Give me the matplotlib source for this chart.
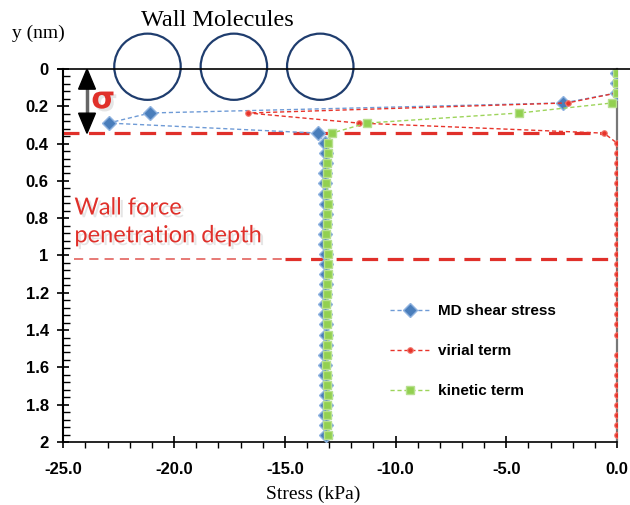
import matplotlib
matplotlib.use('Agg')
import matplotlib.pyplot as plt
import matplotlib.patheffects as pe
import numpy as np
from matplotlib.lines import Line2D
from matplotlib.patches import Ellipse, Polygon
from matplotlib.ticker import MultipleLocator, FormatStrFormatter

# bin centres across the channel (nm)
y_bins = [0.020, 0.074, 0.128, 0.182, 0.236, 0.290, 0.344, 0.398, 0.452, 0.506,
          0.560, 0.614, 0.668, 0.722, 0.776, 0.830, 0.884, 0.938, 0.992, 1.046,
          1.100, 1.154, 1.208, 1.262, 1.316, 1.370, 1.424, 1.478, 1.532, 1.586,
          1.640, 1.694, 1.748, 1.802, 1.856, 1.910, 1.964]

# stress components (kPa)
md_shear = [0.0, 0.0, 0.0, -2.42, -21.08, -22.96, -13.51, -13.20, -13.12, -13.15,
            -13.18, -13.20, -13.17, -13.14, -13.16, -13.18, -13.20, -13.17, -13.15, -13.12,
            -13.14, -13.16, -13.18, -13.20, -13.17, -13.15, -13.13, -13.16, -13.18, -13.20,
            -13.17, -13.15, -13.13, -13.16, -13.18, -13.15, -13.13]
virial = [0.0, 0.0, 0.0, -2.23, -16.65, -11.67, -0.59, 0.0, 0.0, 0.0,
          0.0, 0.0, 0.0, 0.0, 0.0, 0.0, 0.0, 0.0, 0.0, 0.0,
          0.0, 0.0, 0.0, 0.0, 0.0, 0.0, 0.0, np.nan, 0.0, 0.0,
          0.0, 0.0, 0.0, 0.0, 0.0, 0.0, 0.0]
kinetic = [0.0, 0.0, 0.0, -0.21, -4.41, -11.30, -12.88, -13.03, -13.05, -13.08,
           -13.10, -13.12, -13.09, -13.07, -13.08, -13.10, -13.12, -13.09, -13.07, -13.05,
           -13.07, -13.09, -13.11, -13.12, -13.10, -13.08, -13.06, -13.08, -13.10, -13.12,
           -13.10, -13.08, -13.06, -13.08, -13.10, -13.08, -13.06]

sigma_depth = 0.345      # wall molecule diameter
penetration_depth = 1.02
wall_x = [-21.2, -17.3, -13.4]

fig = plt.figure(figsize=(6.3, 5.05), dpi=100)
ax = fig.add_axes([0.1005, 0.1248, 0.879, 0.7386])

dash = (0, (3, 2))
ax.plot(md_shear, y_bins, linestyle=dash, lw=1, color='#6f9bd6', marker='D', ms=7,
        mfc='#4a7ebb', mec='#8fb3e0', mew=1, label='MD shear stress', zorder=3)
ax.plot(virial, y_bins, linestyle=dash, lw=1, color='#e8332a', marker='o', ms=4,
        mfc='#e8332a', mec='#f07a70', mew=0.8, label='virial term', zorder=4)
ax.plot(kinetic, y_bins, linestyle=dash, lw=1, color='#9dd45a', marker='s', ms=6,
        mfc='#92d050', mec='#b8e090', mew=1, label='kinetic term', zorder=5)

# wall force cut-offs
red = '#e0302a'
ax.plot([-25, -0.55], [sigma_depth, sigma_depth], color=red, lw=2.3,
        linestyle=(0, (5, 3)), zorder=2)
ax.plot([-24.5, -15.0], [penetration_depth, penetration_depth], color='#e05550', lw=1.1,
        linestyle=(0, (6, 4)), zorder=2)
ax.plot([-15.0, -0.3], [penetration_depth, penetration_depth], color=red, lw=2.3,
        linestyle=(0, (5, 3)), zorder=2)

# sigma arrow
ax_x = -23.93
ax.plot([ax_x, ax_x], [0.10, 0.24], color='#666666', lw=2.5, zorder=6)
ax.add_patch(Polygon([[ax_x, 0.0], [ax_x - 0.38, 0.108], [ax_x + 0.38, 0.108]],
                     closed=True, color='black', zorder=7))
ax.add_patch(Polygon([[ax_x, sigma_depth], [ax_x - 0.38, sigma_depth - 0.108],
                      [ax_x + 0.38, sigma_depth - 0.108]],
                     closed=True, color='black', zorder=7))
shadow = [pe.withSimplePatchShadow(offset=(2, -2), shadow_rgbFace='#999999', alpha=0.25)]
ax.text(-23.2, 0.165, 'σ', color=red, fontsize=22, fontweight='bold',
        family='DejaVu Sans', ha='center', va='center',
        path_effects=shadow, zorder=8)
ax.text(-24.5, 0.82, 'Wall force\npenetration depth', color=red, fontsize=17,
        family='Lato', ha='left', va='center', linespacing=1.4,
        path_effects=shadow, zorder=8)

# wall molecules sitting on the wall
for cx in wall_x:
    ax.add_patch(Ellipse((cx, -0.012), width=3.0, height=0.355, fill=False,
                         edgecolor='#1f3d6e', lw=1.6, clip_on=False, zorder=6))

ax.set_xlim(-25, 0)
ax.set_ylim(2, 0)
ax.xaxis.set_major_locator(MultipleLocator(5))
ax.xaxis.set_minor_locator(MultipleLocator(1))
ax.xaxis.set_major_formatter(FormatStrFormatter('%.1f'))
ax.yaxis.set_major_locator(MultipleLocator(0.2))
ax.yaxis.set_minor_locator(MultipleLocator(0.04))
ax.yaxis.set_major_formatter(FormatStrFormatter('%g'))
ax.tick_params(axis='x', which='major', direction='inout', length=9, width=1.2, pad=10)
ax.tick_params(axis='x', which='minor', direction='out', length=4, width=1)
ax.tick_params(axis='y', which='major', direction='inout', length=9, width=1.2, pad=6)
ax.tick_params(axis='y', which='minor', direction='in', length=5, width=1)
for lbl in ax.get_xticklabels() + ax.get_yticklabels():
    lbl.set_fontfamily('Liberation Sans')
    lbl.set_fontweight('bold')
    lbl.set_fontsize(12)

ax.spines['top'].set_visible(False)
ax.spines['right'].set_color('#777777')
ax.spines['right'].set_linewidth(1.6)
ax.spines['left'].set_linewidth(1.5)
ax.spines['bottom'].set_linewidth(1.2)
fig.add_artist(Line2D([0.092, 1.0], [0.8634, 0.8634], color='black', lw=1.2,
                      transform=fig.transFigure))

serif = 'Liberation Serif'
fig.text(38 / 630, 1 - 33 / 505, 'y (nm)', family=serif, fontsize=14, ha='center', va='center')
fig.text(217 / 630, 1 - 21 / 505, 'Wall Molecules', family=serif, fontsize=17.5,
         ha='center', va='center')
fig.text(313 / 630, 1 - 494 / 505, 'Stress (kPa)', family=serif, fontsize=14,
         ha='center', va='center')

ax.legend(loc='upper left', bbox_to_anchor=(0.577, 0.39), frameon=False,
          handlelength=2.5, handletextpad=0.6, labelspacing=1.7, borderpad=0,
          prop={'family': 'Liberation Sans', 'weight': 'bold', 'size': 11})

fig.savefig('out.png', dpi=100)
